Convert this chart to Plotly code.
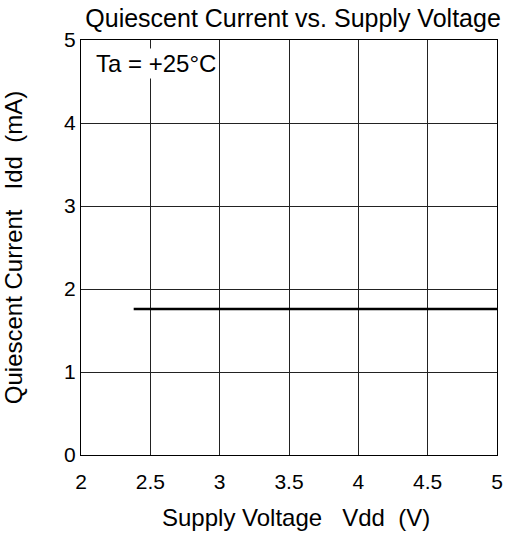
import plotly.graph_objects as go

# data
vdd = [2.38, 3.0, 3.5, 4.0, 4.5, 5.0]
idd = [1.76, 1.76, 1.76, 1.76, 1.76, 1.76]

x_ticks = [2, 2.5, 3, 3.5, 4, 4.5, 5]
y_ticks = [0, 1, 2, 3, 4, 5]

FONT = "Liberation Sans, Arial, sans-serif"
NB = "\u00a0"  # keep the wide gaps in the axis titles

fig = go.Figure()

fig.add_trace(
    go.Scatter(
        x=vdd,
        y=idd,
        mode="lines",
        line=dict(color="black", width=2.5),
        showlegend=False,
    )
)

fig.add_annotation(
    x=2.093, y=4.72, xref="x", yref="y",
    xanchor="left", yanchor="middle",
    text="Ta = +25°C",
    showarrow=False,
    bgcolor="white",
    borderpad=1,
    font=dict(family=FONT, size=24, color="black"),
)

# x title sits a little right of the plot centre in the reference
fig.add_annotation(
    x=0.517, y=0, xref="paper", yref="paper",
    xanchor="center", yanchor="middle", yshift=-62,
    text=f"Supply Voltage{NB*3}Vdd{NB*2}(V)",
    showarrow=False,
    font=dict(family=FONT, size=24, color="black"),
)

fig.update_xaxes(
    range=[2, 5],
    tickvals=x_ticks,
    ticktext=[f"{v:g}" for v in x_ticks],
    showgrid=True, gridcolor="#222", gridwidth=1,
    showline=True, linecolor="black", linewidth=1, mirror=True,
    zeroline=False, ticks="", automargin=False,
    ticklabelstandoff=8, ticklabeloverflow="allow",
    tickfont=dict(family=FONT, size=21, color="black"),
)
fig.update_yaxes(
    range=[0, 5],
    tickvals=y_ticks,
    showgrid=True, gridcolor="#222", gridwidth=1,
    showline=True, linecolor="black", linewidth=1, mirror=True,
    zeroline=False, ticks="", automargin=False,
    tickfont=dict(family=FONT, size=21, color="black"),
    title=dict(text=f"Quiescent Current{NB*3}Idd{NB*2}(mA)", standoff=38,
               font=dict(family=FONT, size=24, color="black")),
)

fig.update_layout(
    width=507, height=537,
    margin=dict(l=81, r=10, t=40, b=82),
    paper_bgcolor="white", plot_bgcolor="white",
    title=dict(text="Quiescent Current vs. Supply Voltage",
               x=0.578, xanchor="center", y=0.966, yanchor="middle",
               font=dict(family=FONT, size=25, color="black")),
)

# drop the default body margin so the figure fills the window exactly
fig.write_html(
    "out.html",
    config={"displayModeBar": False},
    post_script="document.body.style.margin='0';",
)
